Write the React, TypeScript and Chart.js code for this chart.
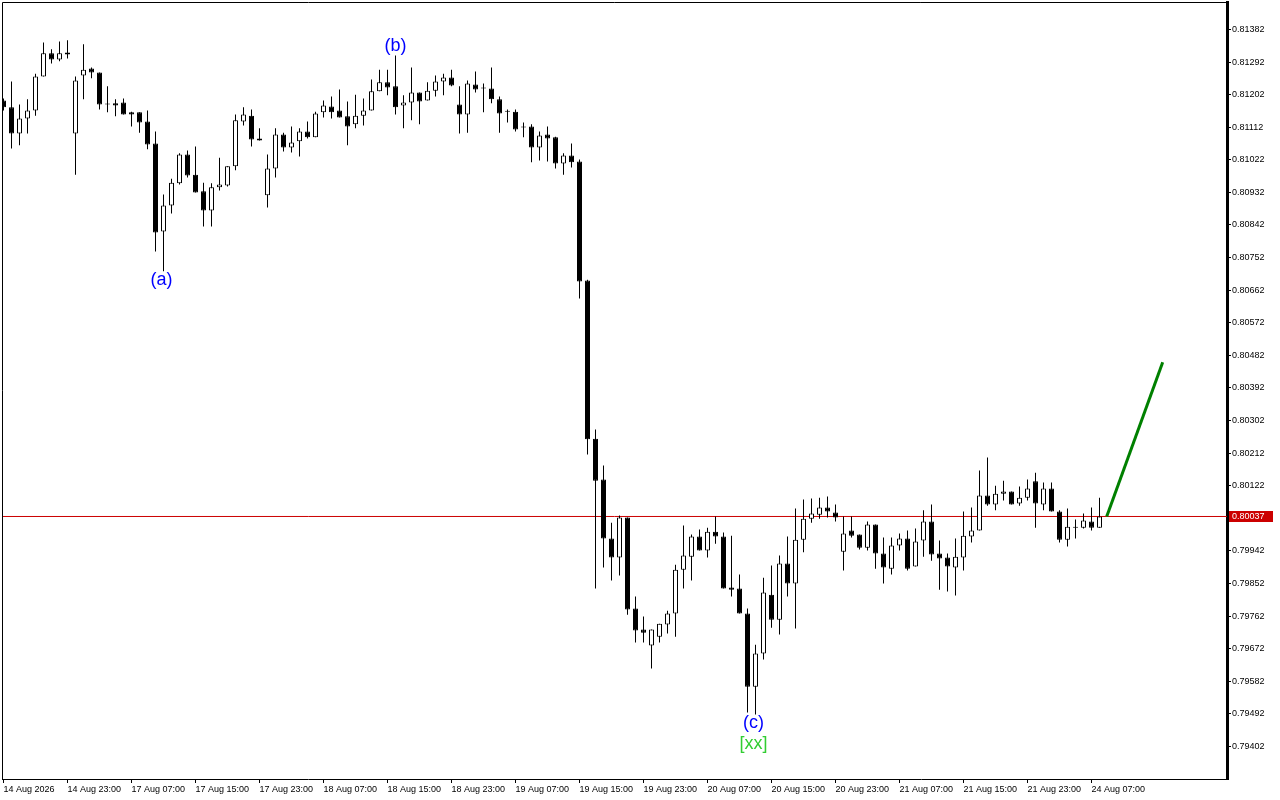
import React, { useEffect, useRef } from 'react';
import { Chart, registerables } from 'chart.js';

Chart.register(...registerables);

// H1 candles, oldest first
const opens = [
  0.81186, 0.81167, 0.81095, 0.81136, 0.81158, 0.81252, 0.81316, 0.81299, 0.81318, 0.81095,
  0.81255, 0.81274, 0.81263, 0.81175, 0.81178, 0.81180, 0.81153, 0.81153, 0.81128, 0.81067,
  0.80824, 0.80896, 0.80957, 0.81037, 0.80981, 0.80935, 0.80882, 0.80946, 0.80951, 0.81004,
  0.81128, 0.81144, 0.81081, 0.80924, 0.80998, 0.81092, 0.81056, 0.81073, 0.81100, 0.81084,
  0.81153, 0.81169, 0.81158, 0.81142, 0.81120, 0.81144, 0.81158, 0.81211, 0.81236, 0.81225,
  0.81172, 0.81180, 0.81208, 0.81186, 0.81213, 0.81238, 0.81249, 0.81175, 0.81147, 0.81230,
  0.81219, 0.81219, 0.81189, 0.81155, 0.81155, 0.81111, 0.81114, 0.81056, 0.81092, 0.81084,
  0.81012, 0.81034, 0.81017, 0.80689, 0.80252, 0.80139, 0.79976, 0.79924, 0.80034, 0.79783,
  0.79725, 0.79681, 0.79705, 0.79739, 0.79769, 0.79890, 0.79926, 0.79982, 0.79943, 0.79995,
  0.79982, 0.79841, 0.79838, 0.79769, 0.79567, 0.79659, 0.79821, 0.79752, 0.79907, 0.79852,
  0.79973, 0.80031, 0.80042, 0.80062, 0.80048, 0.79940, 0.79998, 0.79987, 0.79951, 0.80015,
  0.79935, 0.79893, 0.79957, 0.79976, 0.79899, 0.79971, 0.80023, 0.79935, 0.79924, 0.79896,
  0.79924, 0.79982, 0.79998, 0.80095, 0.80070, 0.80100, 0.80106, 0.80073, 0.80089, 0.80134,
  0.80070, 0.80114, 0.80051, 0.79973, 0.80006, 0.80006, 0.80023, 0.80006,
];
const highs = [
  0.81191, 0.81238, 0.81175, 0.81189, 0.81260, 0.81346, 0.81327, 0.81349, 0.81352, 0.81252,
  0.81341, 0.81277, 0.81263, 0.81225, 0.81189, 0.81191, 0.81155, 0.81153, 0.81158, 0.81100,
  0.80926, 0.80970, 0.81040, 0.81048, 0.81059, 0.80959, 0.80957, 0.81028, 0.81004, 0.81147,
  0.81167, 0.81161, 0.81109, 0.81037, 0.81109, 0.81097, 0.81114, 0.81109, 0.81128, 0.81155,
  0.81186, 0.81197, 0.81216, 0.81183, 0.81202, 0.81191, 0.81244, 0.81271, 0.81271, 0.81310,
  0.81200, 0.81277, 0.81208, 0.81236, 0.81255, 0.81260, 0.81271, 0.81225, 0.81241, 0.81266,
  0.81233, 0.81277, 0.81197, 0.81161, 0.81161, 0.81125, 0.81120, 0.81100, 0.81114, 0.81086,
  0.81040, 0.81067, 0.81023, 0.80691, 0.80277, 0.80178, 0.80020, 0.80040, 0.80034, 0.79816,
  0.79761, 0.79725, 0.79741, 0.79777, 0.79904, 0.80012, 0.79987, 0.80001, 0.80006, 0.80037,
  0.79993, 0.79984, 0.79877, 0.79783, 0.79683, 0.79868, 0.79902, 0.79929, 0.79982, 0.80059,
  0.80084, 0.80087, 0.80089, 0.80092, 0.80070, 0.80037, 0.80037, 0.79987, 0.80023, 0.80015,
  0.79979, 0.79979, 0.79990, 0.79998, 0.80004, 0.80054, 0.80070, 0.79971, 0.79935, 0.79976,
  0.80051, 0.80062, 0.80164, 0.80200, 0.80122, 0.80136, 0.80106, 0.80120, 0.80139, 0.80158,
  0.80131, 0.80131, 0.80054, 0.80059, 0.80029, 0.80045, 0.80062, 0.80089,
];
const lows = [
  0.81158, 0.81053, 0.81062, 0.81095, 0.81144, 0.81252, 0.81288, 0.81294, 0.81302, 0.80981,
  0.81189, 0.81247, 0.81161, 0.81153, 0.81142, 0.81147, 0.81114, 0.81097, 0.81051, 0.80769,
  0.80714, 0.80874, 0.80954, 0.80973, 0.80932, 0.80838, 0.80838, 0.80937, 0.80948, 0.80993,
  0.81117, 0.81059, 0.81075, 0.80890, 0.80973, 0.81045, 0.81042, 0.81031, 0.81081, 0.81084,
  0.81139, 0.81136, 0.81139, 0.81062, 0.81109, 0.81117, 0.81158, 0.81211, 0.81200, 0.81147,
  0.81109, 0.81131, 0.81120, 0.81186, 0.81197, 0.81200, 0.81225, 0.81095, 0.81097, 0.81208,
  0.81153, 0.81178, 0.81097, 0.81125, 0.81100, 0.81084, 0.81015, 0.81020, 0.81017, 0.80998,
  0.80981, 0.81001, 0.80639, 0.80208, 0.79838, 0.79896, 0.79860, 0.79874, 0.79766, 0.79689,
  0.79689, 0.79617, 0.79689, 0.79714, 0.79705, 0.79838, 0.79860, 0.79943, 0.79924, 0.79962,
  0.79838, 0.79816, 0.79769, 0.79496, 0.79490, 0.79642, 0.79730, 0.79711, 0.79816, 0.79728,
  0.79938, 0.80020, 0.80031, 0.80034, 0.80023, 0.79888, 0.79979, 0.79946, 0.79943, 0.79893,
  0.79852, 0.79877, 0.79943, 0.79888, 0.79899, 0.79926, 0.79915, 0.79835, 0.79830, 0.79819,
  0.79888, 0.79965, 0.79998, 0.80067, 0.80054, 0.80081, 0.80070, 0.80067, 0.80081, 0.80006,
  0.80054, 0.80051, 0.79965, 0.79954, 0.79976, 0.80004, 0.79998, 0.80006,
];
const closes = [
  0.81167, 0.81095, 0.81136, 0.81158, 0.81252, 0.81316, 0.81299, 0.81316, 0.81313, 0.81241,
  0.81271, 0.81263, 0.81175, 0.81175, 0.81172, 0.81147, 0.81147, 0.81125, 0.81064, 0.80821,
  0.80896, 0.80959, 0.81037, 0.80979, 0.80932, 0.80882, 0.80946, 0.80954, 0.81004, 0.81131,
  0.81147, 0.81078, 0.81075, 0.80998, 0.81092, 0.81056, 0.81070, 0.81100, 0.81084, 0.81150,
  0.81172, 0.81153, 0.81139, 0.81114, 0.81144, 0.81158, 0.81211, 0.81236, 0.81222, 0.81167,
  0.81180, 0.81208, 0.81183, 0.81213, 0.81238, 0.81249, 0.81227, 0.81147, 0.81233, 0.81216,
  0.81219, 0.81189, 0.81150, 0.81155, 0.81106, 0.81111, 0.81056, 0.81089, 0.81081, 0.81012,
  0.81034, 0.81015, 0.80686, 0.80250, 0.80136, 0.79976, 0.79924, 0.80034, 0.79780, 0.79722,
  0.79716, 0.79725, 0.79741, 0.79769, 0.79890, 0.79929, 0.79982, 0.79943, 0.79995, 0.79982,
  0.79838, 0.79835, 0.79769, 0.79567, 0.79659, 0.79827, 0.79752, 0.79907, 0.79852, 0.79973,
  0.80031, 0.80045, 0.80062, 0.80051, 0.80034, 0.79990, 0.79984, 0.79951, 0.80015, 0.79935,
  0.79896, 0.79957, 0.79976, 0.79893, 0.79968, 0.80023, 0.79932, 0.79921, 0.79899, 0.79926,
  0.79984, 0.79998, 0.80095, 0.80070, 0.80100, 0.80106, 0.80070, 0.80089, 0.80114, 0.80073,
  0.80114, 0.80051, 0.79973, 0.80009, 0.80009, 0.80026, 0.80006, 0.80037,
];

const timeLabels = [
  '14 Aug 2026', '14 Aug 23:00', '17 Aug 07:00', '17 Aug 15:00', '17 Aug 23:00', '18 Aug 07:00',
  '18 Aug 15:00', '18 Aug 23:00', '19 Aug 07:00', '19 Aug 15:00', '19 Aug 23:00', '20 Aug 07:00',
  '20 Aug 15:00', '20 Aug 23:00', '21 Aug 07:00', '21 Aug 15:00', '21 Aug 23:00', '24 Aug 07:00',
];
const timeLabelBars = [0, 8, 16, 24, 32, 40, 48, 56, 64, 72, 80, 88, 96, 104, 112, 120, 128, 136];

const priceTicks = [
  0.79402, 0.79492, 0.79582, 0.79672, 0.79762, 0.79852, 0.79942, 0.80032, 0.80122, 0.80212,
  0.80302, 0.80392, 0.80482, 0.80572, 0.80662, 0.80752, 0.80842, 0.80932, 0.81022, 0.81112,
  0.81202, 0.81292, 0.81382,
];

const bidPrice = 0.80037;

// projected move drawn after the last candle
const projectionBars = [137.9, 144.9];
const projectionPrices = [0.80037, 0.80463];

const waveLabels = [
  { text: '(a)', bar: 19.75, price: 0.80691, color: '#0000ff' },
  { text: '(b)', bar: 49, price: 0.81335, color: '#0000ff' },
  { text: '(c)', bar: 93.75, price: 0.79468, color: '#0000ff' },
  { text: '[xx]', bar: 93.75, price: 0.79410, color: '#32cd32' },
];

const FONT = "'Liberation Sans', Arial, sans-serif";
const X_MIN = -0.1875;
const X_MAX = 152.9375;
const Y_MIN = 0.793121;
const Y_MAX = 0.814578;

const overlayPlugin = {
  id: 'overlay',
  beforeDraw(chart: any) {
    const { ctx, width, height } = chart;
    ctx.save();
    ctx.fillStyle = '#ffffff';
    ctx.fillRect(0, 0, width, height);
    ctx.restore();
  },
  afterDraw(chart: any) {
    const { ctx, chartArea: a, scales } = chart;
    ctx.save();
    // left and top edges of the plot frame
    ctx.strokeStyle = '#000000';
    ctx.lineWidth = 1;
    ctx.beginPath();
    ctx.moveTo(a.left + 0.5, a.bottom);
    ctx.lineTo(a.left + 0.5, a.top + 0.5);
    ctx.lineTo(a.right, a.top + 0.5);
    ctx.stroke();

    // current price box on the price axis
    const by = Math.floor(scales.y.getPixelForValue(bidPrice));
    ctx.fillStyle = '#cc0000';
    ctx.fillRect(a.right + 2, by - 5, 44, 11);
    ctx.fillStyle = '#ffffff';
    ctx.font = `9px ${FONT}`;
    ctx.textAlign = 'left';
    ctx.textBaseline = 'middle';
    ctx.fillText(bidPrice.toFixed(5), a.right + 5, by + 0.5);

    // wave labels
    ctx.font = `18px ${FONT}`;
    ctx.textAlign = 'center';
    waveLabels.forEach(l => {
      ctx.fillStyle = l.color;
      ctx.fillText(l.text, scales.x.getPixelForValue(l.bar), scales.y.getPixelForValue(l.price));
    });
    ctx.restore();
  },
};

export default function App() {
  const chartRef = useRef<HTMLCanvasElement>(null);

  useEffect(() => {
    document.body.style.margin = '0';
    if (!chartRef.current) return;

    const idx = opens.map((_, i) => i);
    const bodyColors = idx.map(i => (closes[i] >= opens[i] ? '#ffffff' : '#000000'));

    const chart = new Chart(chartRef.current, {
      type: 'bar',
      data: {
        datasets: [
          {
            type: 'bar',
            label: 'body',
            data: idx.map(i => ({ x: i, y: [opens[i], closes[i]] })) as any,
            backgroundColor: bodyColors,
            borderColor: '#000000',
            borderWidth: 1,
            borderSkipped: false,
            barThickness: 5,
            minBarLength: 1,
            inflateAmount: 0,
            grouped: false,
            order: 0,
          },
          {
            type: 'bar',
            label: 'wick',
            data: idx.map(i => ({ x: i, y: [lows[i], highs[i]] })) as any,
            backgroundColor: '#000000',
            borderWidth: 0,
            barThickness: 1,
            inflateAmount: 0,
            grouped: false,
            order: 1,
          },
          {
            type: 'line',
            label: 'bid',
            data: [{ x: X_MIN, y: bidPrice }, { x: X_MAX, y: bidPrice }] as any,
            borderColor: '#cc0000',
            borderWidth: 1,
            pointRadius: 0,
            order: 2,
          },
          {
            type: 'line',
            label: 'projection',
            data: projectionBars.map((b, k) => ({ x: b, y: projectionPrices[k] })) as any,
            borderColor: '#008000',
            borderWidth: 3,
            pointRadius: 0,
            order: -1,
          },
        ],
      },
      options: {
        responsive: false,
        animation: false,
        devicePixelRatio: 1,
        layout: { padding: { left: 2, top: 2, right: 0, bottom: 0 } },
        plugins: {
          legend: { display: false },
          tooltip: { enabled: false },
        },
        scales: {
          x: {
            type: 'linear',
            position: 'bottom',
            min: X_MIN,
            max: X_MAX,
            offset: false,
            grid: { offset: false, drawOnChartArea: false, tickLength: 4, color: '#000000' },
            border: { display: true, color: '#000000', width: 1 },
            ticks: {
              autoSkip: false,
              maxRotation: 0,
              minRotation: 0,
              align: 'start',
              padding: 1,
              color: '#000000',
              font: { family: FONT, size: 9 },
              callback: (v: any) => {
                const k = timeLabelBars.indexOf(Number(v));
                return k >= 0 ? timeLabels[k] : '';
              },
            },
            afterBuildTicks: (s: any) => {
              s.ticks = timeLabelBars.map(v => ({ value: v }));
            },
            afterFit: (s: any) => {
              s.height = 21;
              s.paddingLeft = 0;
              s.paddingRight = 0;
            },
          },
          y: {
            type: 'linear',
            position: 'right',
            min: Y_MIN,
            max: Y_MAX,
            grid: { drawOnChartArea: false, tickLength: 4, color: '#000000' },
            border: { display: true, color: '#000000', width: 3 },
            ticks: {
              padding: 1,
              color: '#000000',
              font: { family: FONT, size: 9 },
              callback: (v: any) => Number(v).toFixed(5),
            },
            afterBuildTicks: (s: any) => {
              s.ticks = priceTicks.map(v => ({ value: v }));
            },
            afterFit: (s: any) => {
              s.width = 53;
              s.paddingTop = 0;
              s.paddingBottom = 0;
            },
          },
        },
      } as any,
      plugins: [overlayPlugin],
    });

    return () => chart.destroy();
  }, []);

  return (
    <div style={{ width: 1280, height: 800, position: 'relative', background: '#ffffff' }}>
      <canvas ref={chartRef} width={1280} height={800} style={{ display: 'block' }} />
    </div>
  );
}
